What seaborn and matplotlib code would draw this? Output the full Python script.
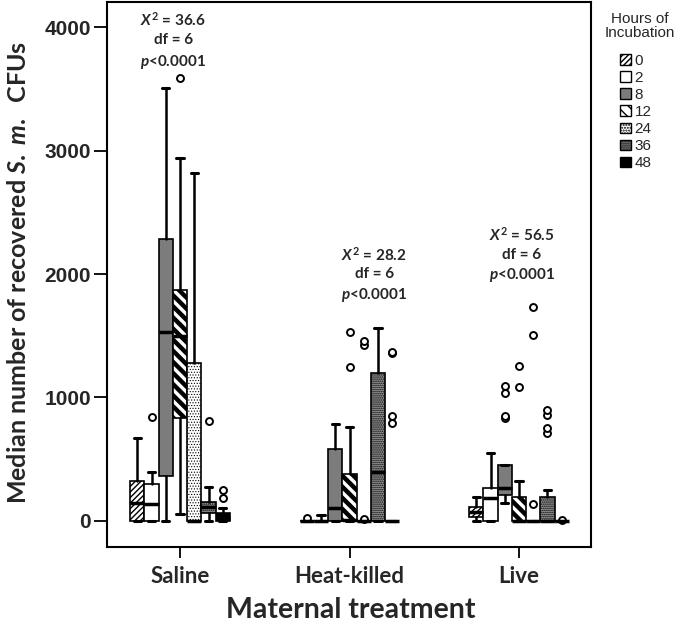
import numpy as np
import matplotlib
matplotlib.use("Agg")
import matplotlib.pyplot as plt
from matplotlib.patches import Patch
import seaborn as sns

# data: box statistics, rows = hours, cols = treatments
treatments = ["Saline", "Heat-killed", "Live"]
hours = ["0", "2", "8", "12", "24", "36", "48"]

whislo = [[0, 0, 0], [0, 0, 0], [0, 0, 146], [57, 0, 0],
          [0, 0, 0], [0, 0, 0], [0, 0, 0]]
q1 = [[0, 0, 35], [0, 0, 0], [365, 0, 211], [836, 0, 0],
      [0, 0, 0], [65, 0, 0], [0, 0, 0]]
med = [[146, 0, 73], [140, 0, 187], [1533, 105, 268], [1500, 10, 0],
       [0, 0, 0], [110, 398, 0], [20, 0, 0]]
q3 = [[325, 0, 114], [300, 0, 268], [2280, 584, 454], [1874, 381, 195],
      [1282, 0, 0], [154, 1200, 195], [65, 0, 0]]
whishi = [[673, 0, 195], [398, 45, 552], [3505, 787, 454], [2937, 763, 325],
          [2815, 0, 0], [276, 1566, 252], [105, 0, 0]]
fliers = [
    [[], [20], []],
    [[844], [], []],
    [[], [], [836, 852, 1039, 1095]],
    [[3586], [1250, 1533], [1087, 1258]],
    [[], [15, 1428, 1460], [138, 1509, 1736]],
    [[811], [], [714, 755, 860, 900]],
    [[187, 250], [795, 852, 1360, 1371], [10]],
]

stat_lines = [
    ["$X^{2}$ = 36.6", "df = 6", "$p$<0.0001"],
    ["$X^{2}$ = 28.2", "df = 6", "$p$<0.0001"],
    ["$X^{2}$ = 56.5", "df = 6", "$p$<0.0001"],
]

# box looks per hour of incubation
box_styles = [
    dict(facecolor="white", hatch="//////", hlw=1.0),
    dict(facecolor="white", hatch=None, hlw=1.0),
    dict(facecolor="#7c7c7c", hatch=None, hlw=1.0),
    dict(facecolor="white", hatch="\\\\\\", hlw=3.2),
    dict(facecolor="white", hatch="......", hlw=0.5),
    dict(facecolor="#9a9a9a", hatch="........", hlw=0.8),
    dict(facecolor="black", hatch=None, hlw=1.0),
]

sns.set_theme(style="ticks")
plt.rcParams["font.family"] = ["Lato", "DejaVu Sans"]
plt.rcParams["mathtext.fontset"] = "custom"
plt.rcParams["mathtext.it"] = "Lato:italic:bold"
plt.rcParams["mathtext.rm"] = "Lato:bold"
plt.rcParams["mathtext.bf"] = "Lato:bold"
plt.rcParams["hatch.color"] = "black"

fig = plt.figure(figsize=(6.76, 6.23), dpi=100)
ax = fig.add_axes([107 / 676, 1 - 547 / 623, (591 - 107) / 676, (547 - 2) / 623])

width = 0.084
for j, h in enumerate(hours):
    st = box_styles[j]
    stats = []
    for i in range(len(treatments)):
        stats.append(dict(med=med[j][i], q1=q1[j][i], q3=q3[j][i],
                          whislo=whislo[j][i], whishi=whishi[j][i],
                          fliers=fliers[j][i]))
    positions = [i + (j - 3) * width for i in range(len(treatments))]
    res = ax.bxp(
        stats, positions=positions, widths=width, patch_artist=True,
        manage_ticks=False,
        boxprops=dict(facecolor=st["facecolor"], edgecolor="black",
                      linewidth=1.2, hatch=st["hatch"]),
        medianprops=dict(color="black", linewidth=2.5, solid_capstyle="butt"),
        whiskerprops=dict(color="black", linewidth=1.8),
        capprops=dict(color="black", linewidth=2.2),
        flierprops=dict(marker="o", markersize=5, markerfacecolor="white",
                        markeredgecolor="black", markeredgewidth=1.4),
    )
    for b in res["boxes"]:
        if hasattr(b, "set_hatch_linewidth"):
            b.set_hatch_linewidth(st["hlw"])

ax.set_xlim(-0.431, 2.425)
ax.set_ylim(-211, 4203)
ax.set_yticks([0, 1000, 2000, 3000, 4000])
ax.set_yticklabels(["0", "1000", "2000", "3000", "4000"],
                   fontfamily="Liberation Sans", fontweight="bold", fontsize=15)
ax.set_xticks(range(len(treatments)))
ax.set_xticklabels(treatments, fontweight="bold", fontsize=16)
ax.tick_params(axis="y", length=9.4, width=1.3, pad=2, color="black")
ax.tick_params(axis="x", length=8, width=1.3, pad=6, color="black")
for sp in ax.spines.values():
    sp.set_visible(True)
    sp.set_color("black")
    sp.set_linewidth(1.5)

# test statistics above each group
text_x = [-0.04, 1.145, 2.018]
text_y = [[4057, 3895, 3716], [2158, 1996, 1826], [2320, 2154, 1992]]
for i in range(len(treatments)):
    for k, line in enumerate(stat_lines[i]):
        ax.text(text_x[i], text_y[i][k], line, ha="center", va="center",
                fontsize=11, fontweight="bold")

fig.text(19 / 676, 1 - 272 / 623,
         r"Median number of recovered $\mathit{S.\ m.}$  CFUs",
         rotation=90, ha="center", va="center", fontsize=18, fontweight="bold")
fig.text(351 / 676, 1 - 618 / 623, "Maternal treatment",
         ha="center", va="baseline", fontsize=20.5, fontweight="bold")

# legend
fig.text(640 / 676, 1 - 26 / 623, "Hours of\nIncubation", ha="center",
         va="center", fontsize=11, fontfamily="Liberation Sans",
         linespacing=1.0)
handles = []
for st in box_styles:
    p = Patch(facecolor=st["facecolor"], edgecolor="black", linewidth=1.0,
              hatch=st["hatch"])
    if hasattr(p, "set_hatch_linewidth"):
        p.set_hatch_linewidth(min(st["hlw"], 2.0))
    handles.append(p)
fig.legend(handles, hours, loc="upper left",
           bbox_to_anchor=(620 / 676, 1 - 54 / 623), frameon=False,
           borderaxespad=0, borderpad=0, handlelength=0.7, handleheight=0.7,
           handletextpad=0.25, labelspacing=0.2,
           prop=dict(family="Liberation Sans", size=11))

fig.savefig("out.png", dpi=100)
